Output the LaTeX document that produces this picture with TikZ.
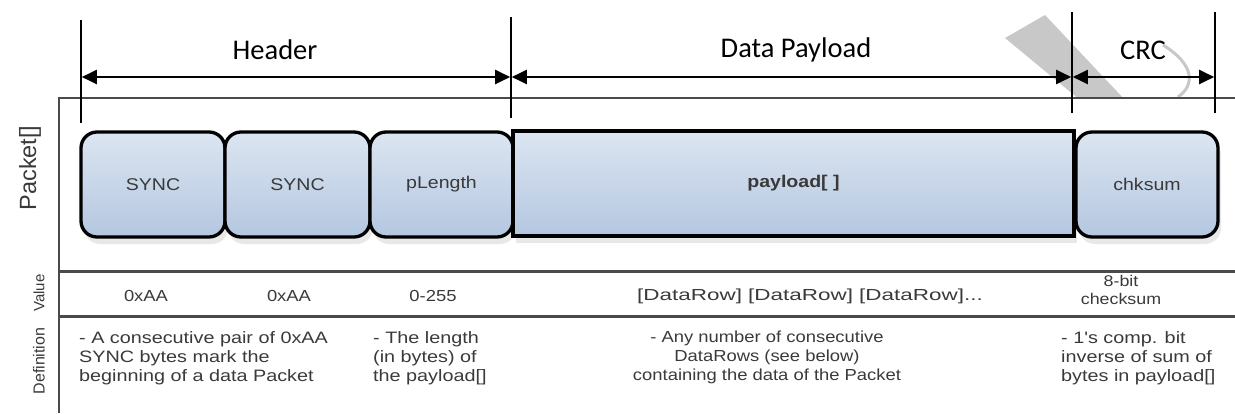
\documentclass[tikz,border=0pt]{standalone}
\usepackage{fontspec}
\setmainfont{Liberation Sans}
\newfontfamily\arialw[FakeStretch=1.15]{Liberation Sans}
\newfontfamily\arialx[FakeStretch=1.2]{Liberation Sans}
\newfontfamily\calib{Carlito}
\usetikzlibrary{arrows.meta,shadows}
\definecolor{frameline}{HTML}{4A4A4A}
\definecolor{txt}{HTML}{3A3A3A}
\definecolor{boxtop}{HTML}{DCE5F1}
\definecolor{boxbot}{HTML}{B4C7E0}
\definecolor{wm}{HTML}{C8C8C8}
\begin{document}
\begin{tikzpicture}[x=1pt,y=-1pt,
  tick/.style={line width=1.6pt,black},
  dimarrow/.style={line width=2pt,black,{Triangle[length=15pt,width=14pt]}-{Triangle[length=15pt,width=14pt]}},
  hdr/.style={font=\calib\fontsize{28.5}{31}\selectfont,text=black,inner sep=0pt},
  frm/.style={line width=2pt,frameline},
  sep/.style={line width=3pt,frameline},
  pbox/.style={draw=black,line width=3.3pt,rounded corners=16pt,top color=boxtop,bottom color=boxbot,
     minimum height=105pt,inner sep=0pt,font=\arialw\fontsize{17}{20}\selectfont,text=txt,
     drop shadow={shadow xshift=3pt,shadow yshift=-7pt,opacity=.18,fill=gray}},
  sbox/.style={pbox,rounded corners=0pt},
  val/.style={font=\arialw\fontsize{16}{19}\selectfont,text=txt,inner sep=0pt,align=center},
  defn/.style={font=\arialx\fontsize{16.5}{19}\selectfont,text=txt,inner sep=0pt},
  side/.style={text=txt,rotate=90,inner sep=0pt}
]
\useasboundingbox (0,0) rectangle (1235,413);
% watermark
\fill[wm] (1005,38) -- (1045,15) -- (1125,100) -- (1080,100) -- cycle;
\draw[wm,line width=3pt] (1163,45) .. controls (1195,65) and (1195,85) .. (1178,97);
% frame
\fill[white] (59,98) rectangle (1235,413);
\coordinate (ftl) at (59,98);
\coordinate (ftr) at (1235,98);
\coordinate (fbl) at (59,413);
\coordinate (s1l) at (59,271);
\coordinate (s1r) at (1235,271);
\coordinate (s2l) at (59,316);
\coordinate (s2r) at (1235,316);
\draw[frm] (ftr) -- (ftl) -- (fbl);
\draw[sep] (s1l) -- (s1r);
\draw[sep] (s2l) -- (s2r);
% side labels
\node[side,font=\fontsize{23.5}{26}\selectfont] (lpk) at (30,168) {Packet[]};
\node[side,font=\fontsize{15}{18}\selectfont] (lval) at (39,293) {Value};
\node[side,font=\fontsize{16}{18}\selectfont] (ldef) at (39,361) {Definition};
% boxes
\node[pbox,minimum width=144pt] (b1) at (153,184.5) {SYNC};
\node[pbox,minimum width=145pt] (b2) at (297.5,184.5) {SYNC};
\node[pbox,minimum width=143pt] (b3) at (441.5,184.5) {pLength};
\node[sbox,minimum width=561pt] (b4) at (793.5,183.5) {\bfseries payload[ ]};
\node[pbox,minimum width=142pt] (b5) at (1147,184.5) {chksum};
% ticks
\coordinate (t1a) at (81,20);   \coordinate (t1b) at (81,123);
\coordinate (t2a) at (511,17);  \coordinate (t2b) at (511,118);
\coordinate (t3a) at (1072,12); \coordinate (t3b) at (1072,113);
\coordinate (t4a) at (1215,12); \coordinate (t4b) at (1215,113);
\draw[tick] (t1a) -- (t1b);
\draw[tick] (t2a) -- (t2b);
\draw[tick] (t3a) -- (t3b);
\draw[tick] (t4a) -- (t4b);
\coordinate (a1) at (81.8,77);
\coordinate (a2) at (510.2,77);
\coordinate (a3) at (511.8,77);
\coordinate (a4) at (1071.2,77);
\coordinate (a5) at (1072.8,77);
\coordinate (a6) at (1214.2,77);
\draw[dimarrow] (a1) -- (a2);
\draw[dimarrow] (a3) -- (a4);
\draw[dimarrow] (a5) -- (a6);
\node[hdr] (lh) at (275,50) {Header};
\node[hdr] (ld) at (796,50) {Data Payload};
\node[hdr] (lc) at (1143,50) {CRC};
% values
\node[val] (v1) at (146,296) {0xAA};
\node[val] (v2) at (289,296) {0xAA};
\node[val] (v3) at (433,296) {0-255};
\node[val] (v4) at (810,296) {\scalebox{1.22}[1]{[DataRow] [DataRow] [DataRow]...}};
\node[val,font=\arialw\fontsize{15.5}{18}\selectfont] (v5) at (1121,289.5) {8-bit\\checksum};
% definitions
\node[defn,anchor=north west,align=left] (d1) at (79,331) {- A consecutive pair of 0xAA\\SYNC bytes mark the\\beginning of a data Packet};
\node[defn,anchor=north west,align=left] (d2) at (373,331) {- The length\\(in bytes) of\\the payload[]};
\node[defn,font=\arialw\fontsize{16}{19}\selectfont,anchor=north,align=center] (d3) at (767,331) {- Any number of consecutive\\DataRows (see below)\\containing the data of the Packet};
\node[defn,anchor=north west,align=left] (d4) at (1061,331) {- 1's comp. bit\\inverse of sum of\\bytes in payload[]};
\end{tikzpicture}
\end{document}
